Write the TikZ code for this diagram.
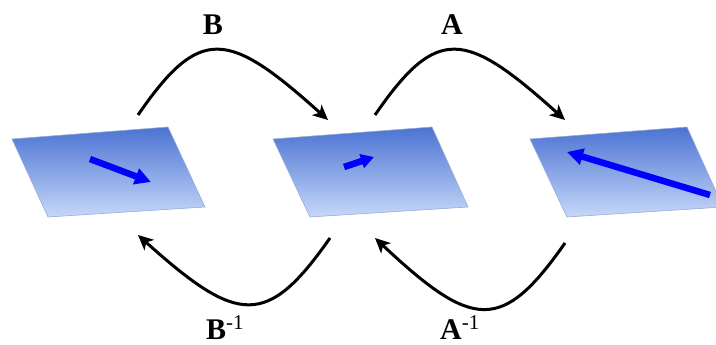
\documentclass[tikz,border=0pt]{standalone}
\usepackage{fontspec}
\setmainfont{Liberation Serif}
\usepackage{xcolor}
\usetikzlibrary{arrows.meta}
\definecolor{planetop}{RGB}{75,115,210}
\definecolor{planebot}{RGB}{198,215,249}
\definecolor{planeedge}{RGB}{150,172,215}
\begin{document}
\begin{tikzpicture}[x=1pt, y=-1pt,
    plane/.style={top color=planetop, bottom color=planebot, draw=planeedge, line width=0.6pt},
    arr/.style={-{Stealth[length=15pt, width=14pt, inset=4pt]}, line width=3pt},
    vec/.style={-{Triangle[length=16pt, width=16pt]}, blue, line width=6.5pt},
    lbl/.style={inner sep=0pt, font=\fontsize{30}{34}\selectfont\bfseries}
]
\useasboundingbox (0,0) rectangle (716,345);
% the three planes
\shade[plane] (12,139) -- (168,127) -- (205,207) -- (48,217) -- cycle;
\shade[plane] (273,139) -- (432,127) -- (468,207) -- (310,217) -- cycle;
\shade[plane] (530,139) -- (687,127) -- (723,207) -- (567,217) -- cycle;
% vectors
\coordinate (v1a) at (90,159);  \coordinate (v1b) at (151,182);
\coordinate (v2a) at (344,167); \coordinate (v2b) at (374,157);
\coordinate (v3a) at (710,195); \coordinate (v3b) at (567,152);
\draw[vec] (v1a) -- (v1b);
\draw[vec, -{Triangle[length=13pt, width=14pt]}] (v2a) -- (v2b);
\draw[vec] (v3a) -- (v3b);
% ends of the maps
\coordinate (bs) at (138,115);  \coordinate (be) at (328,120);
\coordinate (as) at (375,115);  \coordinate (ae) at (565,120);
\coordinate (bis) at (330,238); \coordinate (bie) at (138,235);
\coordinate (ais) at (565,243); \coordinate (aie) at (375,238);
\draw[arr] (bs) .. controls (200,25) and (228,30) .. (be);
\draw[arr] (as) .. controls (437,25) and (465,30) .. (ae);
\draw[arr] (bis) .. controls (267,328) and (238,325) .. (bie);
\draw[arr] (ais) .. controls (502,333) and (473,330) .. (aie);
% labels
\node[lbl, anchor=base] (lb) at (213,35) {B};
\node[lbl, anchor=base] (la) at (452,35) {A};
\node[lbl, anchor=base west] (lbi) at (206,339) {B\textsuperscript{\mdseries -1}};
\node[lbl, anchor=base west] (lai) at (440,339) {A\textsuperscript{\mdseries -1}};
\end{tikzpicture}
\end{document}
